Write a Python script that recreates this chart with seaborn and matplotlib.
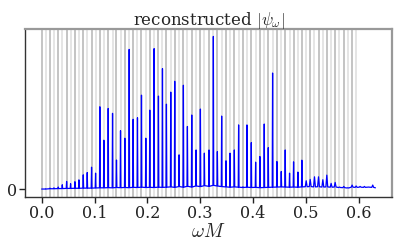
import matplotlib
matplotlib.use("Agg")
import matplotlib.pyplot as plt
import seaborn as sns
import pandas as pd

omega_peaks = [0.000, 0.0075, 0.0157, 0.0232, 0.0314, 0.0390, 0.0472, 0.0547, 0.0629, 0.0705,
               0.0787, 0.0862, 0.0944, 0.1020, 0.1101, 0.1177, 0.1259, 0.1341, 0.1416, 0.1492,
               0.1574, 0.1656, 0.1731, 0.1813, 0.1889, 0.1971, 0.2046, 0.2128, 0.2210, 0.2286,
               0.2361, 0.2443, 0.2518, 0.2600, 0.2682, 0.2758, 0.2840, 0.2922, 0.3004, 0.3079,
               0.3167, 0.3249, 0.3325, 0.3406, 0.3488, 0.3564, 0.3646, 0.3727, 0.3809, 0.3885,
               0.3967, 0.4049, 0.4130, 0.4212, 0.4288, 0.4370, 0.4452, 0.4534, 0.4609, 0.4691,
               0.4767, 0.4849, 0.4924, 0.5006, 0.5082, 0.5163, 0.5239, 0.5321, 0.5396, 0.5478,
               0.5554, 0.5636, 0.5717, 0.5793, 0.5875, 0.5951, 0.6026, 0.6108, 0.6190, 0.6265]
psi_peaks = [0.000, 0.002, 0.006, 0.008, 0.013, 0.028, 0.050, 0.035, 0.048, 0.060,
             0.093, 0.108, 0.143, 0.104, 0.539, 0.320, 0.528, 0.496, 0.190, 0.382,
             0.333, 0.915, 0.457, 0.467, 0.615, 0.333, 0.517, 0.920, 0.609, 0.789,
             0.556, 0.635, 0.706, 0.224, 0.680, 0.410, 0.485, 0.256, 0.524, 0.235,
             0.256, 1.000, 0.245, 0.478, 0.185, 0.235, 0.256, 0.420, 0.015, 0.420,
             0.304, 0.176, 0.213, 0.426, 0.271, 0.760, 0.180, 0.115, 0.256, 0.104,
             0.178, 0.111, 0.189, 0.054, 0.063, 0.080, 0.080, 0.061, 0.091, 0.037,
             0.043, 0.013, 0.017, 0.008, 0.026, 0.020, 0.017, 0.017, 0.013, 0.026]
psi_base = [0.000, 0.000, 0.002, 0.002, 0.003, 0.003, 0.004, 0.004, 0.005, 0.005,
            0.006, 0.006, 0.006, 0.007, 0.008, 0.008, 0.009, 0.008, 0.010, 0.009,
            0.010, 0.009, 0.011, 0.010, 0.012, 0.010, 0.011, 0.010, 0.012, 0.011,
            0.012, 0.014, 0.011, 0.016, 0.012, 0.018, 0.013, 0.020, 0.016, 0.022,
            0.018, 0.024, 0.020, 0.016, 0.014, 0.012, 0.014, 0.012, 0.010, 0.012,
            0.010, 0.011, 0.009, 0.010, 0.011, 0.012, 0.013, 0.014, 0.013, 0.012,
            0.013, 0.012, 0.014, 0.015, 0.016, 0.014, 0.015, 0.013, 0.014, 0.012,
            0.013, 0.010, 0.009, 0.007, 0.012, 0.011, 0.012, 0.011, 0.012, 0.011]
x_ticks = [0.0, 0.1, 0.2, 0.3, 0.4, 0.5, 0.6]
n_lines = 76

# build line series: narrow spike around each peak
half_w = 0.0007
xs, ys = [], []
for i, (w, p, b) in enumerate(zip(omega_peaks, psi_peaks, psi_base)):
    hw = half_w if i < 63 else half_w * 2.5
    if i == 0:
        xs += [w, w + hw]
        ys += [p, b]
    else:
        xs += [w - hw, w, w + hw]
        ys += [b, p, b]
xs.append(0.6316)
ys.append(0.008)
df = pd.DataFrame({"omega": xs, "psi": ys})

sns.set_style("white")
plt.rcParams["font.family"] = ["DejaVu Serif"]
plt.rcParams["mathtext.fontset"] = "cm"

fig = plt.figure(figsize=(4.07, 2.44), dpi=100)
ax = fig.add_axes([0.0614, 0.194, 0.902, 0.688])

for i, w in enumerate(omega_peaks[:n_lines]):
    ax.axvline(w, color="#b4b4b4" if i % 2 == 0 else "#dedede", lw=1.1, zorder=0)

sns.lineplot(data=df, x="omega", y="psi", ax=ax, color="#0000ff", lw=0.9,
             sort=False, estimator=None, zorder=3)

ax.set_xticks(x_ticks)
ax.set_xticklabels([f"{t:.1f}" for t in x_ticks])
ax.set_yticks([0])
ax.set_yticklabels(["0"])
ax.tick_params(axis="both", labelsize=11.5, length=4, width=1, direction="out",
               bottom=True, left=True, pad=2, colors="#222222")
ax.set_xlabel(r"$\omega M$", fontsize=14, labelpad=1)
ax.set_ylabel("")
ax.set_title(r"reconstructed $|\psi_\omega|$", fontsize=12, pad=3)

for side in ["left", "bottom"]:
    ax.spines[side].set_color("#333333")
    ax.spines[side].set_linewidth(1.0)
for side in ["top", "right"]:
    ax.spines[side].set_color("#999999")
    ax.spines[side].set_linewidth(1.6)

fig.savefig("out.png", dpi=100)
